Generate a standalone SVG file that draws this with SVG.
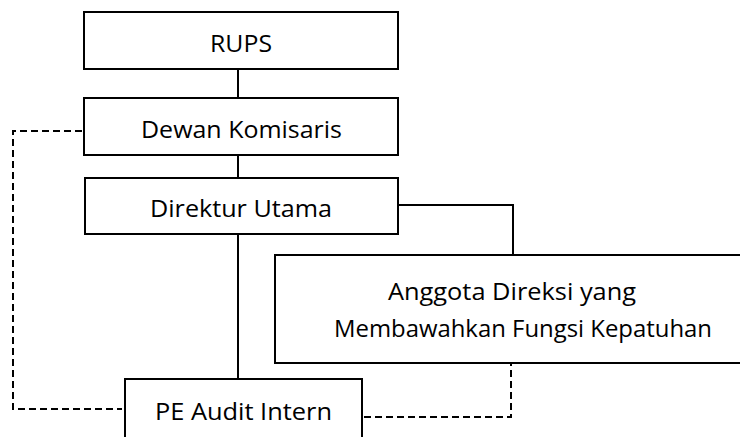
<svg xmlns="http://www.w3.org/2000/svg" width="740" height="437" viewBox="0 0 740 437">
<style>
.box{fill:#fff;stroke:#000;stroke-width:2}
.t{font-family:"Open Sans","Liberation Sans",sans-serif;font-size:24.5px;fill:#000}
.c{fill:none;stroke:#000;stroke-width:2}
.d{fill:none;stroke:#000;stroke-width:2;stroke-dasharray:7 4}
</style>
<rect width="740" height="437" fill="#fff"/>
<g id="connectors">
<line class="c" x1="238" y1="69" x2="238" y2="98"/>
<line class="c" x1="238" y1="155" x2="238" y2="178"/>
<line class="c" x1="238" y1="234" x2="238" y2="379"/>
<polyline class="c" points="398,205 513,205 513,255"/>
<polyline class="d" points="82,131 13,131 13,409 122,409"/>
<polyline class="d" points="364,417 511,417 511,364"/>
</g>
<g id="rups">
<rect class="box" x="84" y="12" width="314" height="57"/>
<text class="t" x="210" y="52" textLength="62" lengthAdjust="spacingAndGlyphs">RUPS</text>
</g>
<g id="dewan-komisaris">
<rect class="box" x="84" y="98" width="314" height="57"/>
<text class="t" x="141" y="138" textLength="201" lengthAdjust="spacingAndGlyphs">Dewan Komisaris</text>
</g>
<g id="direktur-utama">
<rect class="box" x="85" y="178" width="313" height="56"/>
<text class="t" x="150" y="217" textLength="182" lengthAdjust="spacingAndGlyphs">Direktur Utama</text>
</g>
<g id="anggota-direksi">
<rect class="box" x="275" y="255" width="480" height="108"/>
<text class="t" x="388" y="300" textLength="248" lengthAdjust="spacingAndGlyphs">Anggota Direksi yang</text>
<text class="t" x="334" y="337" textLength="378" lengthAdjust="spacingAndGlyphs">Membawahkan Fungsi Kepatuhan</text>
</g>
<g id="pe-audit-intern">
<rect class="box" x="125" y="379" width="237" height="80"/>
<text class="t" x="155" y="420" textLength="177" lengthAdjust="spacingAndGlyphs">PE Audit Intern</text>
</g>
</svg>
